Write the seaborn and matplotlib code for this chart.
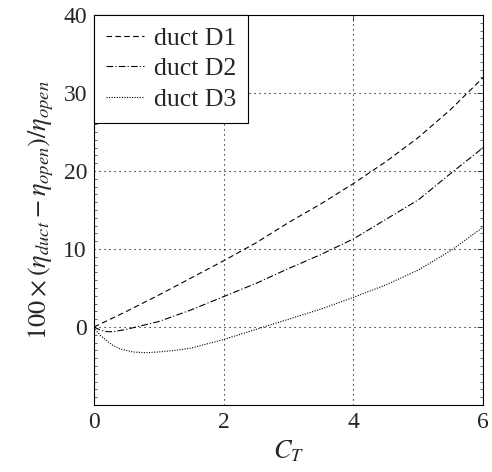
import matplotlib
matplotlib.use("Agg")
import matplotlib.pyplot as plt
import seaborn as sns
import pandas as pd
from matplotlib.ticker import MultipleLocator

# Data
d1_x = [0, 0.5, 1, 1.5, 2, 2.5, 3, 3.5, 4, 4.5, 5, 5.5, 6]
d1_y = [0, 2.0, 4.1, 6.3, 8.5, 10.8, 13.4, 15.8, 18.4, 21.2, 24.3, 27.9, 32.0]

d2_x = [0, 0.1, 0.2, 0.3, 0.5, 0.75, 1, 1.5, 2, 2.5, 3, 3.5, 4, 4.5, 5, 5.5, 6]
d2_y = [0, -0.4, -0.6, -0.6, -0.3, 0.2, 0.7, 2.2, 3.9, 5.6, 7.5, 9.3, 11.3, 13.8, 16.3, 19.7, 23.0]

d3_x = [0, 0.05, 0.1, 0.2, 0.3, 0.4, 0.6, 0.8, 1, 1.25, 1.5, 2, 2.5, 3, 3.5, 4, 4.5, 5, 5.5, 6]
d3_y = [0, -0.6, -1.1, -1.8, -2.4, -2.8, -3.2, -3.3, -3.2, -3.0, -2.7, -1.6, -0.3, 1.0, 2.3, 3.8, 5.4, 7.3, 9.8, 12.8]

labels = ["duct D1", "duct D2", "duct D3"]
x_ticks = [0, 2, 4, 6]
y_ticks = [0, 10, 20, 30, 40]

sns.set_style("white")
plt.rcParams["font.family"] = ["Liberation Serif", "DejaVu Serif"]
plt.rcParams["mathtext.fontset"] = "stix"

fig = plt.figure(figsize=(4.92, 4.72), dpi=100)
ax = fig.add_axes([0.191, 0.142, 0.791, 0.826])

series = [(d1_x, d1_y), (d2_x, d2_y), (d3_x, d3_y)]
dash_styles = [(5, 3), (6, 2, 1, 2), (1, 1.3)]
for (xs, ys), lab, ds in zip(series, labels, dash_styles):
    df = pd.DataFrame({"x": xs, "y": ys})
    sns.lineplot(data=df, x="x", y="y", ax=ax, color="black", linewidth=0.8,
                 label=lab, dashes=False)
    ax.lines[-1].set_dashes(ds)

ax.set_xlim(0, 6)
ax.set_ylim(-10, 40)
ax.set_xticks(x_ticks)
ax.set_yticks(y_ticks)
ax.yaxis.set_minor_locator(MultipleLocator(1))
ax.tick_params(axis="both", which="major", direction="in", length=4, width=0.6,
               top=True, right=True, labelsize=17, pad=5)
ax.tick_params(axis="y", which="minor", direction="in", length=2, width=0.5,
               left=True, right=True)
ax.grid(True, which="major", color="black", linestyle=(0, (1, 3.5)), linewidth=0.8)
for s in ax.spines.values():
    s.set_color("black")
    s.set_linewidth(0.8)

ax.set_xlabel(r"$C_T$", fontsize=19, labelpad=4)
ax.set_ylabel(r"$100\times(\eta_{duct}-\eta_{open})/\eta_{open}$", fontsize=19, labelpad=5)

leg = ax.legend(loc="upper left", frameon=True, fancybox=False, framealpha=1,
                edgecolor="black", borderaxespad=0, fontsize=18.5,
                handlelength=1.5, handletextpad=0.4, labelspacing=0.3,
                borderpad=0.45)
leg.get_frame().set_linewidth(0.8)

fig.savefig("out.png", dpi=100)
